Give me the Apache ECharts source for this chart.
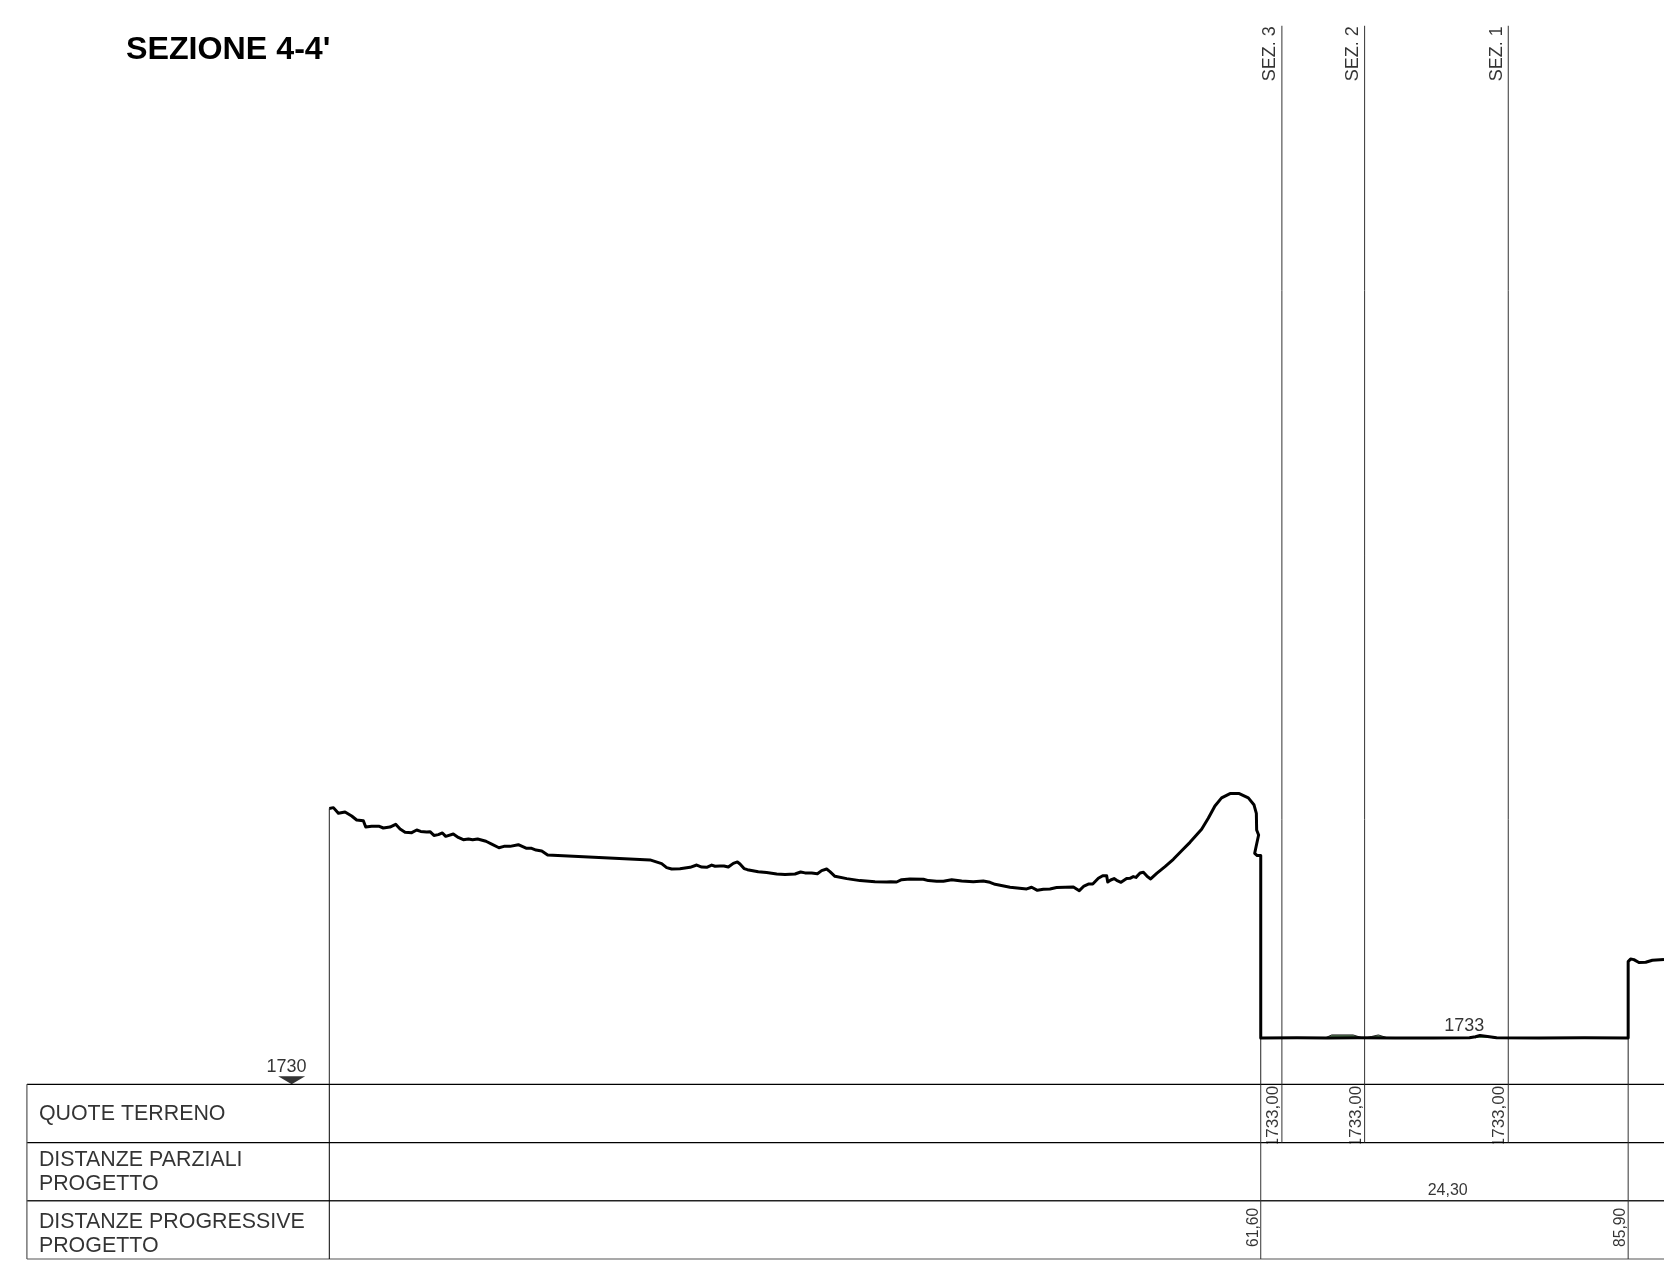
<!DOCTYPE html>
<html><head><meta charset="utf-8">
<style>html,body{margin:0;padding:0;background:#fff}#c{width:1664px;height:1273px}</style>
<script src="https://cdn.jsdelivr.net/npm/echarts@6/dist/echarts.min.js"></script>
</head><body><div id="c"></div>
<script>
var titleText = "SEZIONE 4-4'";
var xMin = -20, xMax = 88.27;
var datumLevel = 1730, topLevel = 1800.27, sectionTop = 1798.6;
var floorLevel = 1733;
var profileX = [0,0.27,0.60,1.04,1.48,1.81,2.25,2.41,2.80,3.31,3.57,4.01,4.39,4.68,5.01,5.45,5.78,6.04,6.44,6.66,6.92,7.21,7.48,7.70,8.20,8.53,8.86,9.20,9.48,9.81,10.36,10.74,11.22,11.55,11.95,12.50,13.05,13.38,13.67,14.05,14.44,21.21,21.98,22.31,22.64,23.19,23.86,24.30,24.63,24.96,25.29,25.51,25.84,26.10,26.39,26.72,26.99,27.16,27.43,27.65,28.37,28.92,29.59,30.14,30.80,31.17,31.46,31.90,32.28,32.56,32.89,33.11,33.44,34.22,35.10,36.09,36.86,36.97,37.13,37.52,37.85,38.40,39.29,39.62,40.17,40.61,41.16,41.82,42.59,43.25,43.69,44.03,44.36,45.02,46.12,46.45,46.83,47.22,47.66,48.10,48.66,49.21,49.60,49.91,50.20,50.49,50.86,51.15,51.41,51.48,51.68,51.90,52.07,52.36,52.73,52.95,53.17,53.35,53.62,53.84,54.10,54.32,54.72,55.27,55.82,56.37,56.92,57.69,58.13,58.57,59.01,59.57,60.18,60.78,61.15,61.31,61.33,61.46,61.33,61.20,61.37,61.60,61.60,64.00,66.00,68.00,70.50,73.00,75.40,75.80,76.10,76.60,77.20,80.00,83.00,85.90,85.90,86.06,86.28,86.61,87.06,87.50,88.27];
var profileY = [1747.88,1747.93,1747.56,1747.65,1747.39,1747.13,1747.08,1746.67,1746.72,1746.72,1746.61,1746.67,1746.85,1746.54,1746.33,1746.31,1746.48,1746.39,1746.35,1746.37,1746.13,1746.18,1746.29,1746.07,1746.22,1746.00,1745.85,1745.90,1745.85,1745.90,1745.75,1745.57,1745.33,1745.42,1745.42,1745.53,1745.29,1745.29,1745.18,1745.12,1744.86,1744.54,1744.30,1744.04,1743.95,1743.97,1744.06,1744.21,1744.08,1744.06,1744.21,1744.13,1744.15,1744.15,1744.08,1744.32,1744.41,1744.28,1743.98,1743.91,1743.78,1743.72,1743.63,1743.59,1743.63,1743.76,1743.70,1743.70,1743.65,1743.85,1743.95,1743.78,1743.48,1743.33,1743.20,1743.13,1743.11,1743.03,1743.13,1743.11,1743.26,1743.31,1743.29,1743.20,1743.16,1743.16,1743.26,1743.18,1743.13,1743.18,1743.09,1742.96,1742.90,1742.77,1742.66,1742.77,1742.57,1742.64,1742.66,1742.75,1742.77,1742.79,1742.55,1742.85,1742.98,1742.98,1743.35,1743.52,1743.52,1743.11,1743.24,1743.33,1743.22,1743.09,1743.33,1743.35,1743.46,1743.41,1743.70,1743.74,1743.46,1743.31,1743.67,1744.11,1744.58,1745.14,1745.68,1746.53,1747.24,1748.04,1748.56,1748.84,1748.84,1748.56,1748.12,1747.56,1746.48,1746.16,1745.57,1744.97,1744.82,1744.82,1733.00,1733.01,1733.00,1733.01,1733.00,1733.00,1733.02,1733.08,1733.16,1733.10,1733.02,1733.00,1733.01,1733.00,1737.95,1738.12,1738.08,1737.89,1737.91,1738.04,1738.08];
var humpAX = [65.85,66.29,67.71,68.37], humpAY = [1733.0,1733.2,1733.2,1733.0];
var humpBX = [68.50,68.94,69.38,70.03], humpBY = [1733.0,1733.1,1733.2,1733.0];
var humpCX = [75.80,76.10,76.60,77.00], humpCY = [1733.0,1733.16,1733.12,1733.0];
var sectionNames = ["SEZ. 3","SEZ. 2","SEZ. 1"];
var sectionX = [63.00,68.47,77.97];
var sectionQuote = ["1733,00","1733,00","1733,00"];
var stationX = [0,61.60,85.90];
var stationTerrain = [1747.88,1733,1733];
var partialText = "24,30", partialX = 74.0;
var progressiveX = [61.60,85.90], progressiveText = ["61,60","85,90"];
var rowTitles = ["QUOTE TERRENO","DISTANZE PARZIALI\nPROGETTO","DISTANZE PROGRESSIVE\nPROGETTO"];
var rowLines = [0,1,2,3];
var levelMarks = [{x:-2.49,y:1730,t:"1730"},{x:75.10,y:1733,t:"1733"}];

var FONT = '"Liberation Sans", Arial, sans-serif';
function zip(a,b){return a.map(function(v,i){return [v,b[i]];});}
function seg(name,pts,idx,color,width,z){
  return {type:'line',name:name,data:pts,xAxisIndex:idx,yAxisIndex:idx,symbol:'none',showSymbol:false,silent:true,clip:false,z:z||4,
    lineStyle:{color:color,width:width},animation:false};
}
function txt(name,pts,idx,label,z){
  return {type:'scatter',name:name,data:pts,xAxisIndex:idx,yAxisIndex:idx,symbol:'circle',symbolSize:1,silent:true,clip:false,z:z||5,
    itemStyle:{color:'transparent'},animation:false,
    label:Object.assign({show:true,color:'#000',fontFamily:FONT,position:[0,0]},label)};
}
function hump(name,x,y){
  return {type:'line',name:name,data:zip(x,y),xAxisIndex:0,yAxisIndex:0,symbol:'none',silent:true,clip:false,z:3,
    lineStyle:{color:'#222',width:1},areaStyle:{color:'#5f8f5f',opacity:1,origin:floorLevel},animation:false};
}
var series = [];
// Row 2 band hides the overrun of the quote labels
series.push({type:'custom',name:'maskRow2',xAxisIndex:1,yAxisIndex:1,silent:true,z:3,clip:false,animation:false,
  data:[[0,xMax,1,2]],encode:{x:[0,1],y:[2,3]},
  renderItem:function(p,api){
    var a=api.coord([api.value(0),api.value(2)]),b=api.coord([api.value(1),api.value(3)]);
    return {type:'rect',shape:{x:a[0],y:a[1]+1,width:b[0]-a[0],height:b[1]-a[1]-1},style:{fill:'#fff'}};
  }});
rowLines.forEach(function(r){
  series.push(seg('row'+r,[[xMin,r],[xMax,r]],1,r===3?'#555':(r===2?'#222':'#000'),r===2?1.4:1.2));
});
series.push(seg('tableLeft',[[xMin,0],[xMin,3]],1,'#555',1.2));
stationX.forEach(function(x,i){
  series.push(seg('stationTop'+i,[[x,datumLevel],[x,stationTerrain[i]]],0,'#222',1));
  series.push(seg('stationTable'+i,[[x,0],[x,3]],1,i===0?'#000':'#333',1));
});
sectionX.forEach(function(x,i){
  series.push(seg('section'+i,[[x,datumLevel],[x,sectionTop]],0,'#333',1));
  series.push(seg('sectionTable'+i,[[x,0],[x,1]],1,'#333',1));
});
series.push(hump('humpA',humpAX,humpAY),hump('humpB',humpBX,humpBY),hump('humpC',humpCX,humpCY));
series.push(seg('terrain',zip(profileX,profileY),0,'#000',3,6));
series[series.length-1].lineStyle.join='round';
// level triangle
series.push({type:'scatter',name:'datum',xAxisIndex:0,yAxisIndex:0,silent:true,clip:false,z:6,animation:false,
  data:[[levelMarks[0].x,levelMarks[0].y]],symbol:'triangle',symbolRotate:180,symbolSize:[27,8],symbolOffset:[0,-4],itemStyle:{color:'#000'}});
// texts
series.push(txt('levelLabels',[[levelMarks[0].x,levelMarks[0].y,levelMarks[0].t,-4.7,-8],[levelMarks[1].x,levelMarks[1].y,levelMarks[1].t,0,-2]].map(function(d){
  return {value:[d[0],d[1]],label:{formatter:d[2],offset:[d[3],d[4]]}};
}),0,{fontSize:18,align:'center',verticalAlign:'bottom'}));
series.push(txt('sectionNames',sectionX.map(function(x,i){
  return {value:[x,sectionTop],label:{formatter:sectionNames[i]}};
}),0,{fontSize:18,rotate:90,align:'right',verticalAlign:'bottom',offset:[-1,-2]}));
series.push(txt('quotes',sectionX.map(function(x,i){
  return {value:[x,0],label:{formatter:sectionQuote[i]}};
}),1,{fontSize:17,rotate:90,align:'right',verticalAlign:'bottom',offset:[-2,0.5]},2));
series.push(txt('partial',[{value:[partialX,2],label:{formatter:partialText}}],1,{fontSize:16,align:'center',verticalAlign:'bottom',offset:[0,-2]}));
series.push(txt('progressive',progressiveX.map(function(x,i){
  return {value:[x,2.5],label:{formatter:progressiveText[i]}};
}),1,{fontSize:15.6,rotate:90,align:'center',verticalAlign:'bottom',offset:[2,1.5]}));
var rowTitleDrop = [1,1,4.5];
series.push(txt('rowTitles',rowTitles.map(function(t,i){
  return {value:[xMin,i+0.5],label:{formatter:t,offset:[12.5,rowTitleDrop[i]]}};
}),1,{fontSize:21.4,lineHeight:24,align:'left',verticalAlign:'middle'}));

var chart = echarts.init(document.getElementById('c'),null,{renderer:'canvas',width:1664,height:1273});
chart.setOption({
  animation:false,backgroundColor:'#fff',
  title:{text:titleText,left:121,top:29,textStyle:{fontFamily:FONT,fontSize:32.2,fontWeight:'bold',color:'#000'}},
  grid:[{left:26.9,right:0,top:0,height:1084.3},{left:26.9,right:0,top:1084.3,height:174.7}],
  xAxis:[{type:'value',gridIndex:0,min:xMin,max:xMax,show:false},{type:'value',gridIndex:1,min:xMin,max:xMax,show:false}],
  yAxis:[{type:'value',gridIndex:0,min:datumLevel,max:topLevel,show:false},{type:'value',gridIndex:1,min:0,max:3,inverse:true,show:false}],
  series:series
});
</script></body></html>
